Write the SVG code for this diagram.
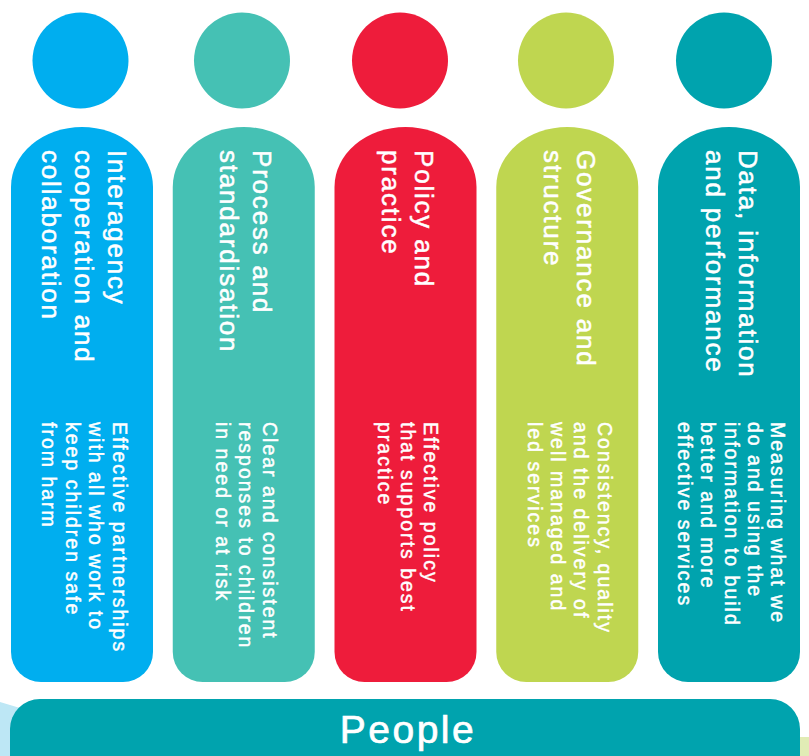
<svg xmlns="http://www.w3.org/2000/svg" width="809" height="756" viewBox="0 0 809 756">
<style>
.t{font-family:"Liberation Sans",Arial,sans-serif;fill:#fff;stroke:#fff;stroke-width:0.5px}
.title{font-size:26px;letter-spacing:1.8px}
.desc{font-size:19.5px;letter-spacing:2px;stroke-width:0.45px}
.people{font-size:39px;letter-spacing:2.5px;stroke-width:0.7px}
</style>
<defs>
<path id="pill" d="M0,187 A71,60 0 0 1 142,187 V652 A30,30 0 0 1 112,682 H30 A30,30 0 0 1 0,652 Z"/>
</defs>
<rect width="809" height="756" fill="#fff"/>
<polygon points="0,702 60,720 60,756 0,756" fill="#BDE7F5"/>
<polygon points="760,737 809,737 809,756 760,756" fill="#E1ECB5"/>
<g id="people">
<rect x="10" y="699" width="790" height="100" rx="30" fill="#00A3AE"/>
<text class="t people" x="408" y="743" text-anchor="middle">People</text>
</g>
<g id="col1">
<circle cx="80.5" cy="60.5" r="48" fill="#00AEEF"/>
<use href="#pill" x="11" fill="#00AEEF"/>
<text class="t title" transform="translate(108,150) rotate(90)"><tspan x="0" y="0">Interagency</tspan><tspan x="0" dy="33">cooperation and</tspan><tspan x="0" dy="33">collaboration</tspan></text>
<text class="t desc" transform="translate(112.6,422) rotate(90)"><tspan x="0" y="0">Effective partnerships</tspan><tspan x="0" dy="23.4">with all who work to</tspan><tspan x="0" dy="23.4">keep children safe</tspan><tspan x="0" dy="23.4">from harm</tspan></text>
</g>
<g id="col2">
<circle cx="242" cy="60.5" r="48" fill="#45C1B4"/>
<use href="#pill" x="172.75" fill="#45C1B4"/>
<text class="t title" transform="translate(253,150) rotate(90)"><tspan x="0" y="0">Process and</tspan><tspan x="0" dy="33">standardisation</tspan></text>
<text class="t desc" transform="translate(262.6,422) rotate(90)"><tspan x="0" y="0">Clear and consistent</tspan><tspan x="0" dy="23.4">responses to children</tspan><tspan x="0" dy="23.4">in need or at risk</tspan></text>
</g>
<g id="col3">
<circle cx="400" cy="60.5" r="48" fill="#EE1C3B"/>
<use href="#pill" x="334.5" fill="#EE1C3B"/>
<text class="t title" transform="translate(415,150) rotate(90)"><tspan x="0" y="0">Policy and</tspan><tspan x="0" dy="33">practice</tspan></text>
<text class="t desc" transform="translate(424.4,422) rotate(90)"><tspan x="0" y="0">Effective policy</tspan><tspan x="0" dy="23.4">that supports best</tspan><tspan x="0" dy="23.4">practice</tspan></text>
</g>
<g id="col4">
<circle cx="566" cy="60.5" r="48" fill="#BFD650"/>
<use href="#pill" x="496.25" fill="#BFD650"/>
<text class="t title" transform="translate(577,150) rotate(90)"><tspan x="0" y="0">Governance and</tspan><tspan x="0" dy="33">structure</tspan></text>
<text class="t desc" transform="translate(597.8,422) rotate(90)"><tspan x="0" y="0">Consistency, quality</tspan><tspan x="0" dy="23.4">and the delivery of</tspan><tspan x="0" dy="23.4">well managed and</tspan><tspan x="0" dy="23.4">led services</tspan></text>
</g>
<g id="col5">
<circle cx="724" cy="60.5" r="48" fill="#00A3AE"/>
<use href="#pill" x="658" fill="#00A3AE"/>
<text class="t title" transform="translate(738.5,150) rotate(90)"><tspan x="0" y="0">Data, information</tspan><tspan x="0" dy="33">and performance</tspan></text>
<text class="t desc" transform="translate(771.3,422) rotate(90)"><tspan x="0" y="0">Measuring what we</tspan><tspan x="0" dy="23.4">do and using the</tspan><tspan x="0" dy="23.4">information to build</tspan><tspan x="0" dy="23.4">better and more</tspan><tspan x="0" dy="23.4">effective services</tspan></text>
</g>
<g id="connectors"/>
</svg>
